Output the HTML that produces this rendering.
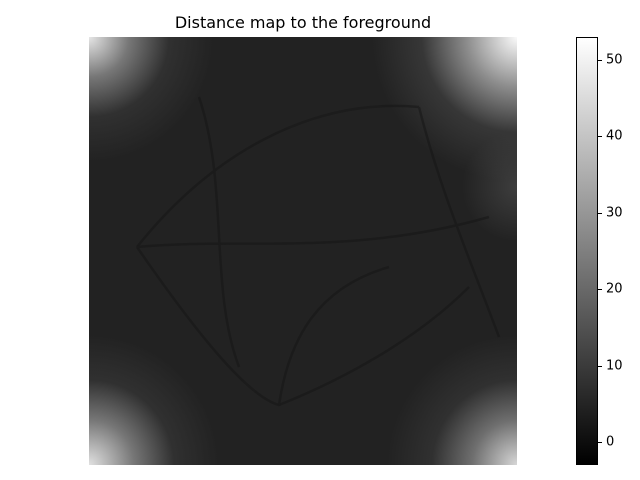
<!DOCTYPE html>
<html><head><meta charset="utf-8"><style>
body{margin:0;background:#fff;font-family:"Liberation Sans","DejaVu Sans",sans-serif;}
#wrap{position:relative;width:640px;height:480px;overflow:hidden;}
#title{position:absolute;left:89px;width:428px;top:13px;text-align:center;font-size:16px;color:#000;font-family:"DejaVu Sans","Liberation Sans",sans-serif;}
#img{position:absolute;left:89px;top:37px;width:428px;height:428px;
background:
radial-gradient(circle at 0% 0%, rgba(230,230,230,1) 0px, rgba(140,140,140,0.8) 40px, rgba(70,70,70,0.4) 80px, rgba(34,34,34,0) 125px),
radial-gradient(circle at 100% 0%, rgba(250,250,250,1) 0px, rgba(160,160,160,0.85) 50px, rgba(80,80,80,0.45) 95px, rgba(34,34,34,0) 145px),
radial-gradient(circle at 0% 100%, rgba(225,225,225,1) 0px, rgba(140,140,140,0.8) 45px, rgba(70,70,70,0.4) 85px, rgba(34,34,34,0) 130px),
radial-gradient(circle at 100% 100%, rgba(215,215,215,1) 0px, rgba(130,130,130,0.8) 45px, rgba(70,70,70,0.4) 85px, rgba(34,34,34,0) 130px),
radial-gradient(circle at 100% 35%, rgba(80,80,80,0.6) 0px, rgba(34,34,34,0) 55px),
#222222;}
#cbar{position:absolute;left:576px;top:37px;width:22px;height:428px;box-sizing:border-box;border:1px solid #000;background:linear-gradient(to top,#000,#fff);}
.tick{position:absolute;left:598px;width:4px;height:1px;background:#000;}
.tl{position:absolute;left:606px;font-size:13px;color:#000;font-family:"DejaVu Sans","Liberation Sans",sans-serif;transform:translateY(-50%);}
</style></head><body>
<div id="wrap">
<div id="title">Distance map to the foreground</div>
<div id="img">
<svg width="428" height="428" style="position:absolute;left:0;top:0">
<g stroke="#151515" stroke-width="2.5" fill="none" opacity="0.5">
<path d="M48 210 C120 120 220 60 330 70"/>
<path d="M48 210 C110 300 160 360 190 368 C260 340 330 300 380 250"/>
<path d="M48 210 C150 200 260 220 400 180"/>
<path d="M190 368 C200 300 230 250 300 230"/>
<path d="M110 60 C140 150 120 250 150 330"/>
<path d="M330 70 C350 150 380 220 410 300"/>
</g></svg>
</div>
<div id="cbar"></div>
</div>
<script>
const cbarTicks=[0,10,20,30,40,50];
const cbarMin=-3, cbarMax=53;
const top0=37, h=428;
function yScale(v){return top0+h*(cbarMax-v)/(cbarMax-cbarMin);}
const wrap=document.getElementById('wrap');
cbarTicks.forEach(v=>{
 const y=yScale(v);
 const t=document.createElement('div');t.className='tick';t.style.top=y+'px';
 
 
 wrap.appendChild(t);
 const l=document.createElement('div');l.className='tl';l.style.top=y+'px';l.textContent=v;
 
 
 wrap.appendChild(l);
});
</script>
</body></html>
